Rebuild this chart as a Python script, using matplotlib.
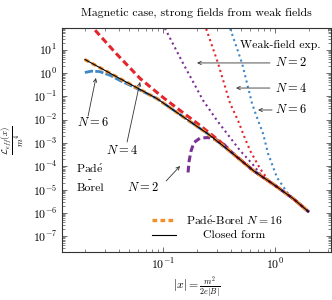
import matplotlib
matplotlib.use("Agg")
import matplotlib.pyplot as plt

plt.rcParams['font.family'] = ['cmr10', 'DejaVu Serif']
plt.rcParams['mathtext.fontset'] = 'cm'
plt.rcParams['axes.formatter.use_mathtext'] = True

# closed form
closed_x = [0.020, 0.041, 0.088, 0.14, 0.25, 0.40, 0.64, 1.0, 1.45, 2.0]
closed_y = [3.8, 0.58, 0.080, 0.017, 2.5e-3, 4.2e-4, 6.5e-5, 1.5e-5, 4.1e-6, 1.1e-6]

# Pade-Borel N = 16 (lies on the closed form)
pb16_x = [0.020, 0.041, 0.088, 0.14, 0.25, 0.40, 0.64, 1.0, 1.45, 2.0]
pb16_y = [3.8, 0.58, 0.080, 0.017, 2.5e-3, 4.2e-4, 6.5e-5, 1.5e-5, 4.1e-6, 1.1e-6]

# Pade-Borel low orders
pb6_x = [0.020, 0.023, 0.027, 0.034, 0.041, 0.053, 0.088, 0.14, 0.25, 0.40, 0.64, 1.0, 1.45, 2.0]
pb6_y = [1.05, 1.2, 1.15, 0.78, 0.48, 0.27, 0.080, 0.017, 2.5e-3, 4.2e-4, 6.5e-5, 1.5e-5, 4.1e-6, 1.1e-6]

pb4_x = [0.0214, 0.0373, 0.0623, 0.100, 0.142, 0.214, 0.323, 0.40, 0.64, 1.0, 1.45, 2.0]
pb4_y = [147, 7.6, 0.58, 0.089, 0.0246, 5.6e-3, 1.15e-3, 4.2e-4, 6.5e-5, 1.5e-5, 4.1e-6, 1.1e-6]

pb2_x = [0.167, 0.171, 0.178, 0.189, 0.214, 0.252, 0.297, 0.351, 0.413, 0.64, 1.0, 1.45, 2.0]
pb2_y = [5.4e-5, 1.76e-4, 4.7e-4, 1.05e-3, 1.62e-3, 1.7e-3, 1.4e-3, 8.5e-4, 3.9e-4, 6.5e-5, 1.5e-5, 4.1e-6, 1.1e-6]

# weak-field expansions
wf2_x = [0.094, 0.104, 0.151, 0.228, 0.303, 0.373, 0.487, 0.623, 0.782, 1.0, 1.45, 2.0]
wf2_y = [218, 81, 2.56, 0.066, 9.2e-3, 2.5e-3, 4.7e-4, 1.3e-4, 3.3e-5, 1.5e-5, 4.1e-6, 1.1e-6]

wf4_x = [0.228, 0.242, 0.310, 0.397, 0.467, 0.518, 0.598, 0.734, 0.902, 1.108, 1.45, 2.0]
wf4_y = [218, 81, 2.56, 0.049, 9.2e-3, 2.5e-3, 4.7e-4, 8.0e-5, 2.0e-5, 1.05e-5, 4.1e-6, 1.1e-6]

wf6_x = [0.373, 0.397, 0.508, 0.623, 0.705, 0.782, 0.866, 1.04, 1.306, 1.571, 2.0]
wf6_y = [218, 81, 2.56, 0.049, 9.2e-3, 2.5e-3, 3.5e-4, 3.3e-5, 6.7e-6, 3.1e-6, 1.1e-6]

orange = '#f28e2b'
red = '#e3262b'
purple = '#7b3294'
blue = '#3d87c9'

fig = plt.figure(figsize=(3.32, 3.0), dpi=100)
ax = fig.add_axes([62 / 332, 48 / 300, 269 / 332, 224 / 300])

ax.plot(wf2_x, wf2_y, color=purple, lw=1.5, linestyle=(0, (1, 1.6)), zorder=2)
ax.plot(wf4_x, wf4_y, color=red, lw=1.5, linestyle=(0, (1, 1.6)), zorder=2)
ax.plot(wf6_x, wf6_y, color=blue, lw=1.5, linestyle=(0, (1, 1.6)), zorder=2)

ax.plot(pb6_x, pb6_y, color=blue, lw=2.0, linestyle=(0, (3.0, 0.8)), zorder=3)
ax.plot(pb2_x, pb2_y, color=purple, lw=2.2, linestyle=(0, (2.2, 1.2)), zorder=3)
ax.plot(pb4_x, pb4_y, color=red, lw=2.2, linestyle=(0, (2.2, 1.2)), zorder=3)
ax.plot(pb16_x, pb16_y, color=orange, lw=2.4, linestyle=(0, (1.4, 1.0)), zorder=4)
ax.plot(closed_x, closed_y, color='black', lw=0.8, zorder=5)

ax.set_xscale('log')
ax.set_yscale('log')
ax.set_xlim(0.0125, 3.16)
ax.set_ylim(2.1e-8, 85)
ax.set_yticks([1e-7, 1e-6, 1e-5, 1e-4, 1e-3, 1e-2, 1e-1, 1, 10])
ax.set_xticks([0.1, 1])
ax.tick_params(which='both', direction='in', top=True, right=True, labelsize=8.5, color='#555555')
ax.tick_params(which='major', length=3.5, width=0.6)
ax.tick_params(which='minor', length=2, width=0.5)
for s in ax.spines.values():
    s.set_linewidth(0.8)
    s.set_color('#333333')

ax.set_title('Magnetic case, strong fields from weak fields', fontsize=8.5, pad=9)
ax.set_xlabel(r'$|x| = \frac{m^2}{2e|B|}$', fontsize=8.5)
ax.xaxis.set_label_coords(0.5, -0.10)
ax.set_ylabel(r'$\frac{\mathcal{L}_{eff}(x)}{m^4}$', fontsize=9, labelpad=5)

tf = ax.transAxes
arr = dict(arrowstyle='->', lw=0.6, color='#333333', shrinkA=0, shrinkB=0,
           mutation_scale=6)

# weak-field labels (right)
ax.text(0.810, 0.924, 'Weak-field exp.', transform=tf, ha='center', va='center', fontsize=8.5)
for yy, tipx, tailx, lab in [(0.844, 0.502, 0.773, '2'), (0.732, 0.647, 0.773, '4'),
                              (0.634, 0.729, 0.781, '6')]:
    ax.text(0.851, yy, r'$N = %s$' % lab, transform=tf, ha='center', va='center', fontsize=9)
    ax.annotate('', xy=(tipx, yy), xytext=(tailx, yy), xycoords=tf, textcoords=tf,
                arrowprops=arr)

# Pade-Borel labels (left)
ax.text(0.115, 0.576, r'$N = 6$', transform=tf, ha='center', va='center', fontsize=9)
ax.annotate('', xy=(0.126, 0.777), xytext=(0.097, 0.607), xycoords=tf, textcoords=tf,
            arrowprops=arr)
ax.text(0.223, 0.455, r'$N = 4$', transform=tf, ha='center', va='center', fontsize=9)
ax.annotate('', xy=(0.290, 0.759), xytext=(0.242, 0.491), xycoords=tf, textcoords=tf,
            arrowprops=arr)
ax.text(0.301, 0.290, r'$N = 2$', transform=tf, ha='center', va='center', fontsize=9)
ax.annotate('', xy=(0.439, 0.384), xytext=(0.387, 0.317), xycoords=tf, textcoords=tf,
            arrowprops=arr)
ax.text(0.104, 0.333, 'Pad$\\acute{\\mathrm{e}}$\n-\nBorel', transform=tf, ha='center',
        va='center', fontsize=8.5, linespacing=1.0)

# legend drawn by hand
ax.plot([0.335, 0.413], [0.143, 0.143], transform=tf, color=orange, lw=2.4,
        linestyle=(0, (1.4, 1.0)))
ax.text(0.641, 0.143, r'Pad$\acute{\mathrm{e}}$-Borel $N = 16$', transform=tf, ha='center',
        va='center', fontsize=8.5)
ax.plot([0.335, 0.424], [0.076, 0.076], transform=tf, color='black', lw=0.8)
ax.text(0.641, 0.076, 'Closed form', transform=tf, ha='center', va='center', fontsize=8.5)

fig.savefig('out.png', dpi=100)
